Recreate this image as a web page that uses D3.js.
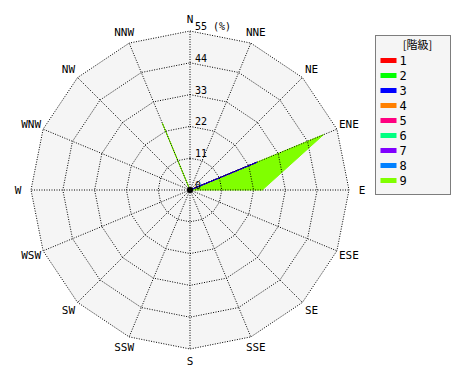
<!DOCTYPE html>
<html lang="ja">
<head>
<meta charset="UTF-8">
<title>風配図</title>
<script src="https://d3js.org/d3.v7.min.js"></script>
<style>
  body { margin: 0; background: #fff; }
  text { font-family: "DejaVu Sans Mono", "Liberation Mono", monospace; fill: #000; }
</style>
</head>
<body>
<svg width="470" height="380"></svg>
<script>
// 16 directions, clockwise from north
const directions = ["N","NNE","NE","ENE","E","ESE","SE","SSE","S","SSW","SW","WSW","W","WNW","NW","NNW"]
const levels = ["1","2","3","4","5","6","7","8","9"]
const levelColors = ["#ff0000","#00ff00","#0000ff","#ff8000","#ff0080","#00ff80","#8000ff","#0080ff","#80ff00"]
const ticks = [0, 11, 22, 33, 44, 55]

// frequency (%) per level, one value per direction
const level1 = [0,0,0,0,0,0,0,0,0,0,0,0,0,0,0,0]
const level2 = [0,0,0,0,0,0,0,0,0,0,0,0,0,0,0,0]
const level3 = [0,0,0,25,0,0,0,0,0,0,0,0,0,0,0,0]
const level4 = [0,0,0,0,0,0,0,0,0,0,0,0,0,0,0,0]
const level5 = [0,0,0,0,0,0,0,0,0,0,0,0,0,0,0,0]
const level6 = [0,0,0,0,0,0,0,0,0,0,0,0,0,0,0,0]
const level7 = [0,0,0,0,0,0,0,0,0,0,0,0,0,0,0,0]
const level8 = [0,0,0,0,0,0,0,0,0,0,0,0,0,0,0,0]
const level9 = [0,0,0,25,25,0,0,0,0,0,0,0,0,0,0,25]
const series = [level1, level2, level3, level4, level5, level6, level7, level8, level9]

const cx = 190, cy = 190, R = 159

const svg = d3.select("svg")
const g = svg.append("g").attr("transform", `translate(${cx},${cy})`)

const r = d3.scaleLinear().domain([0, 55]).range([0, R])
const angle = d3.scaleLinear().domain([0, directions.length]).range([0, 2 * Math.PI])

// cumulative totals per level
let cum = directions.map(() => 0)
const stacked = series.map(s => {
  cum = cum.map((c, i) => c + s[i])
  return cum.slice()
})

const ring = d3.lineRadial()
  .angle((d, i) => angle(i))
  .radius(d => r(d))
  .curve(d3.curveLinearClosed)

// background
g.append("path")
  .attr("d", ring(directions.map(() => 55)))
  .attr("fill", "#f5f5f5")

// data polygons, outermost level first
for (let k = stacked.length - 1; k >= 0; k--) {
  if (d3.max(stacked[k]) === 0) continue
  g.append("path")
    .attr("d", ring(stacked[k]))
    .attr("fill", levelColors[k])
    .attr("stroke", levelColors[k])
    .attr("stroke-width", 1)
}

// grid rings
g.selectAll(".ring")
  .data(ticks.slice(1))
  .enter()
  .append("path")
  .attr("d", t => ring(directions.map(() => t)))
  .attr("fill", "none")
  .attr("stroke", "#000")
  .attr("stroke-dasharray", "1,1.5")

// spokes
g.selectAll(".spoke")
  .data(directions)
  .enter()
  .append("line")
  .attr("x1", 0).attr("y1", 0)
  .attr("x2", (d, i) => r(55) * Math.sin(angle(i)))
  .attr("y2", (d, i) => -r(55) * Math.cos(angle(i)))
  .attr("stroke", "#000")
  .attr("stroke-dasharray", "1,1.5")

g.append("circle").attr("r", 3).attr("fill", "#000")

// tick labels
g.selectAll(".tick")
  .data(ticks)
  .enter()
  .append("text")
  .attr("x", 5)
  .attr("y", t => -r(t) - 1)
  .attr("font-size", 10)
  .text(t => t === 55 ? "55 (%)" : t)

// direction labels
g.selectAll(".dir")
  .data(directions)
  .enter()
  .append("text")
  .attr("x", (d, i) => 172 * Math.sin(angle(i)))
  .attr("y", (d, i) => -171 * Math.cos(angle(i)))
  .attr("text-anchor", "middle")
  .attr("dominant-baseline", "central")
  .attr("font-size", 11)
  .text(d => d)

// legend
const lg = svg.append("g").attr("transform", "translate(375.5,35.5)")
lg.append("rect")
  .attr("width", 75).attr("height", 159)
  .attr("fill", "#f5f5f5")
  .attr("stroke", "#000")
  .attr("stroke-dasharray", "1,1")
lg.append("text")
  .attr("x", 42).attr("y", 13)
  .attr("text-anchor", "middle")
  .style("font-family", "'Noto Sans CJK JP', sans-serif")
  .attr("font-size", 11)
  .attr("fill", "#333")
  .text("[階級]")

const item = lg.selectAll(".item")
  .data(levels)
  .enter()
  .append("g")
  .attr("transform", (d, i) => `translate(5,${25 + i * 15})`)
item.append("rect")
  .attr("width", 16).attr("height", 5)
  .attr("y", -2.5)
  .attr("fill", (d, i) => levelColors[i])
item.append("text")
  .attr("x", 19)
  .attr("dominant-baseline", "central")
  .attr("font-size", 12)
  .text(d => d)
</script>
</body>
</html>
